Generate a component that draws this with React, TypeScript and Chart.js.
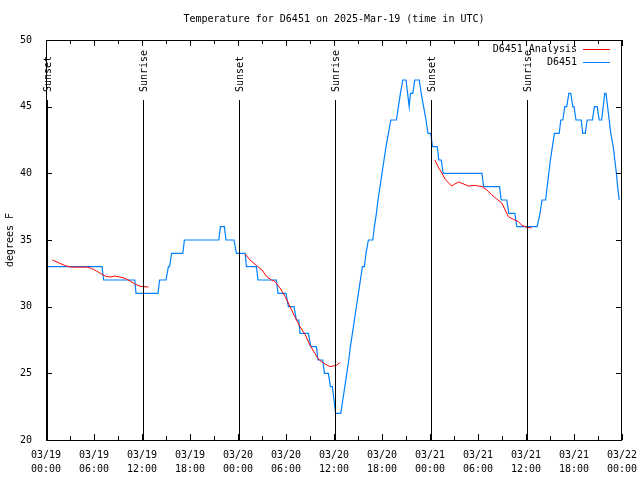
import React, { useEffect, useRef } from "react";
import { Chart, registerables } from "chart.js";

Chart.register(...registerables);

const TITLE = "Temperature for D6451 on 2025-Mar-19 (time in UTC)";
const Y_TITLE = "degrees F";
const SERIES_NAMES = ["D6451 Analysis", "D6451"];
const SERIES_COLORS = ["#ff0000", "#0080ff"];

const X_TICK_DATES = ["03/19", "03/19", "03/19", "03/19", "03/20", "03/20", "03/20", "03/20", "03/21", "03/21", "03/21", "03/21", "03/22"];
const X_TICK_TIMES = ["00:00", "06:00", "12:00", "18:00", "00:00", "06:00", "12:00", "18:00", "00:00", "06:00", "12:00", "18:00", "00:00"];
const Y_TICKS = [20, 25, 30, 35, 40, 45, 50];

// hours since 03/19 00:00 UTC
const SUN_HOURS = [0.1, 12.12, 24.12, 36.1, 48.12, 60.1];
const SUN_LABELS = ["Sunset", "Sunrise", "Sunset", "Sunrise", "Sunset", "Sunrise"];

// Observations (D6451)
const OBS_HOURS = [
  0, 7.0, 7.2, 11.1, 11.25, 14.0, 14.2, 15.0, 15.3, 15.45, 15.7, 17.1, 17.3, 21.6, 21.8, 22.3, 22.5, 23.5, 23.8,
  24.9, 25.05, 26.3, 26.5, 28.8, 29.0, 30.0, 30.3, 31.0, 31.3, 31.6, 31.75, 32.8, 33.1, 33.8, 34.0, 34.6, 34.8,
  35.3, 35.55, 35.8, 36.0, 36.2, 36.85, 37.1, 37.35, 37.6, 37.85, 38.05, 38.3, 38.55, 38.8, 39.05, 39.3, 39.55,
  39.8, 40.0, 40.3, 40.85, 41.05, 41.3, 41.5, 41.75, 42.0, 42.25, 42.5, 42.8, 43.1, 43.8, 44.05, 44.3, 44.6, 45.0,
  45.2, 45.4, 45.55, 45.85, 46.1, 46.65, 46.9, 47.2, 47.5, 47.75, 48.1, 48.3, 48.9, 49.1, 49.4, 49.65, 54.5, 54.7,
  56.7, 56.9, 57.6, 57.85, 58.6, 58.85, 61.4, 61.75, 62.0, 62.45, 62.65, 62.85, 63.05, 63.3, 63.55, 64.15, 64.35,
  64.6, 64.85, 65.1, 65.35, 65.6, 65.85, 66.0, 66.25, 66.9, 67.1, 67.4, 67.65, 68.3, 68.55, 68.9, 69.15, 69.45,
  69.65, 69.85, 70.0, 70.2, 70.4, 70.6, 70.9, 71.1, 71.3, 71.45, 71.65,
];
const OBS_TEMPS = [
  33, 33, 32, 32, 31, 31, 32, 32, 33, 33, 34, 34, 35, 35, 36, 36, 35, 35, 34,
  34, 33, 33, 32, 32, 31, 31, 30, 30, 29, 29, 28, 28, 27, 27, 26, 26, 25,
  25, 24, 24, 23, 22, 22, 23, 24, 25, 26, 27, 28, 29, 30, 31, 32, 33,
  33, 34, 35, 35, 36, 37, 38, 39, 40, 41, 42, 43, 44, 44, 45, 46, 47, 47,
  46, 45, 46, 46, 47, 47, 46, 45, 44, 43, 43, 42, 42, 41, 41, 40, 40, 39,
  39, 38, 38, 37, 37, 36, 36, 37, 38, 38, 39, 40, 41, 42, 43, 43, 44,
  44, 45, 45, 46, 46, 45, 45, 44, 44, 43, 43, 44, 44, 45, 45, 44, 44,
  45, 46, 46, 45, 44, 43, 42, 41, 40, 39, 38,
];

// Analysis (D6451 Analysis), null = gap
const ANALYSIS_HOURS = [
  0.8, 1.75, 2.4, 3.2, 5.1, 5.7, 6.3, 7.0, 7.4, 8.0, 8.6, 9.25, 9.9, 10.5, 11.1, 11.75, 12.8,
  18,
  24.9, 25.5, 26.3, 27.0, 27.6, 28.2, 28.6, 29.25, 29.9, 30.5, 31.1, 31.75, 32.4, 33.0, 33.6, 34.0, 34.7, 35.5, 35.9, 36.3, 36.75,
  42,
  48.6, 49.0, 49.5, 49.9, 50.3, 50.7, 51.1, 51.6, 52.2, 52.8, 53.6, 54.5, 55.1, 55.7, 56.3, 57.0, 57.4, 57.8, 58.4, 59.0, 59.5, 60.1, 60.7,
];
const ANALYSIS_TEMPS = [
  33.5, 33.25, 33.07, 32.97, 32.97, 32.87, 32.68, 32.43, 32.3, 32.22, 32.3, 32.22, 32.12, 31.93, 31.7, 31.53, 31.47,
  null,
  33.95, 33.5, 33.1, 32.75, 32.25, 32.0, 31.9, 31.4, 30.75, 30.0, 29.25, 28.5, 27.9, 27.1, 26.5, 26.1, 25.75, 25.5, 25.55, 25.6, 25.8,
  null,
  41.0, 40.5, 40.0, 39.55, 39.3, 39.05, 39.2, 39.35, 39.2, 39.05, 39.1, 39.0, 38.75, 38.4, 38.1, 37.75, 37.25, 36.75, 36.55, 36.4, 36.1, 35.95, 35.9,
];

const FONT = "'DejaVu Sans Mono', 'Liberation Mono', monospace";

const decorPlugin = {
  id: "gnuplotDecor",
  afterDatasetsDraw(chart: any) {
    const { ctx, chartArea: a, scales } = chart;
    const xs = scales.x;
    const ys = scales.y;
    ctx.save();
    ctx.strokeStyle = "#000";
    ctx.lineWidth = 1;
    // border
    ctx.strokeRect(a.left + 0.5, a.top + 0.5, a.right - a.left - 1, a.bottom - a.top);
    // x ticks (every 3 h, labelled every 6 h)
    ctx.beginPath();
    for (let h = 0; h <= 72; h += 3) {
      const px = Math.round(xs.getPixelForValue(h)) + 0.5;
      const len = h % 6 === 0 ? 6 : 4;
      ctx.moveTo(px, a.bottom);
      ctx.lineTo(px, a.bottom - len);
      ctx.moveTo(px, a.top);
      ctx.lineTo(px, a.top + len);
    }
    // y ticks
    for (const v of Y_TICKS) {
      const py = Math.round(ys.getPixelForValue(v)) + 0.5;
      ctx.moveTo(a.left, py);
      ctx.lineTo(a.left + 6, py);
      ctx.moveTo(a.right, py);
      ctx.lineTo(a.right - 6, py);
    }
    ctx.stroke();
    // sunrise / sunset lines
    const yTopLine = a.bottom - 0.85 * (a.bottom - a.top);
    const yText = a.bottom - 0.87 * (a.bottom - a.top);
    ctx.font = `10px ${FONT}`;
    ctx.fillStyle = "#000";
    SUN_HOURS.forEach((h, i) => {
      const px = Math.round(xs.getPixelForValue(h)) + 0.5;
      ctx.beginPath();
      ctx.moveTo(px, a.bottom);
      ctx.lineTo(px, yTopLine);
      ctx.stroke();
      ctx.save();
      ctx.translate(px + 0.5, yText);
      ctx.rotate(-Math.PI / 2);
      ctx.textAlign = "left";
      ctx.textBaseline = "middle";
      ctx.fillText(SUN_LABELS[i], 0, 0);
      ctx.restore();
    });
    ctx.restore();
  },
  afterDraw(chart: any) {
    const { ctx, chartArea: a } = chart;
    ctx.save();
    ctx.font = `10px ${FONT}`;
    ctx.fillStyle = "#000";
    ctx.textBaseline = "middle";
    ctx.textAlign = "center";
    ctx.fillText(TITLE, (a.left + a.right) / 2, 19);
    // legend
    ctx.textAlign = "right";
    SERIES_NAMES.forEach((name, i) => {
      const y = 49 + i * 13;
      ctx.fillStyle = "#000";
      ctx.fillText(name, a.right - 45, y);
      ctx.strokeStyle = SERIES_COLORS[i];
      ctx.lineWidth = 1;
      ctx.beginPath();
      ctx.moveTo(a.right - 39, Math.round(y) + 0.5);
      ctx.lineTo(a.right - 12, Math.round(y) + 0.5);
      ctx.stroke();
    });
    ctx.restore();
  },
};

export default function App() {
  const ref = useRef<HTMLCanvasElement | null>(null);
  useEffect(() => {
    if (!ref.current) return;
    const analysis = ANALYSIS_HOURS.map((h, i) => ({ x: h, y: ANALYSIS_TEMPS[i] }));
    const obs = OBS_HOURS.map((h, i) => ({ x: h, y: OBS_TEMPS[i] }));
    const chart = new Chart(ref.current, {
      type: "line",
      data: {
        datasets: [
          {
            label: SERIES_NAMES[0],
            data: analysis as any,
            borderColor: SERIES_COLORS[0],
            borderWidth: 1,
            pointRadius: 0,
            spanGaps: false,
            tension: 0,
          },
          {
            label: SERIES_NAMES[1],
            data: obs as any,
            borderColor: SERIES_COLORS[1],
            borderWidth: 1.2,
            pointRadius: 0,
            tension: 0,
          },
        ],
      },
      options: {
        animation: false,
        responsive: false,
        parsing: false as any,
        layout: { padding: { top: 40, right: 18, left: 0, bottom: 0 } },
        plugins: { legend: { display: false }, title: { display: false }, tooltip: { enabled: false } },
        scales: {
          x: {
            type: "linear",
            min: 0,
            max: 72,
            grid: { display: false },
            border: { display: false },
            afterFit: (s: any) => {
              s.height = 40;
              s.paddingLeft = 0;
              s.paddingRight = 0;
            },
            ticks: {
              stepSize: 6,
              autoSkip: false,
              maxRotation: 0,
              maxTicksLimit: 20,
              padding: 0,
              color: "#000",
              font: { family: FONT, size: 10, lineHeight: 1.4 },
              callback: (v: any) => {
                const i = Math.round(Number(v) / 6);
                return [X_TICK_DATES[i] ?? "", X_TICK_TIMES[i] ?? ""];
              },
            },
          },
          y: {
            type: "linear",
            min: 20,
            max: 50,
            grid: { display: false },
            border: { display: false },
            afterFit: (s: any) => {
              s.width = 46;
              s.paddingTop = 0;
              s.paddingBottom = 0;
            },
            ticks: {
              stepSize: 5,
              padding: 6,
              color: "#000",
              font: { family: FONT, size: 10 },
            },
            title: {
              display: true,
              text: Y_TITLE,
              color: "#000",
              font: { family: FONT, size: 10, lineHeight: 1.2 },
              padding: { top: 4, bottom: 0 },
            },
          },
        },
      },
      plugins: [decorPlugin],
    });
    return () => chart.destroy();
  }, []);
  return (
    <div style={{ position: "absolute", left: 0, top: 0, width: 640, height: 480, background: "#fff" }}>
      <canvas ref={ref} width={640} height={480} style={{ display: "block" }} />
    </div>
  );
}
